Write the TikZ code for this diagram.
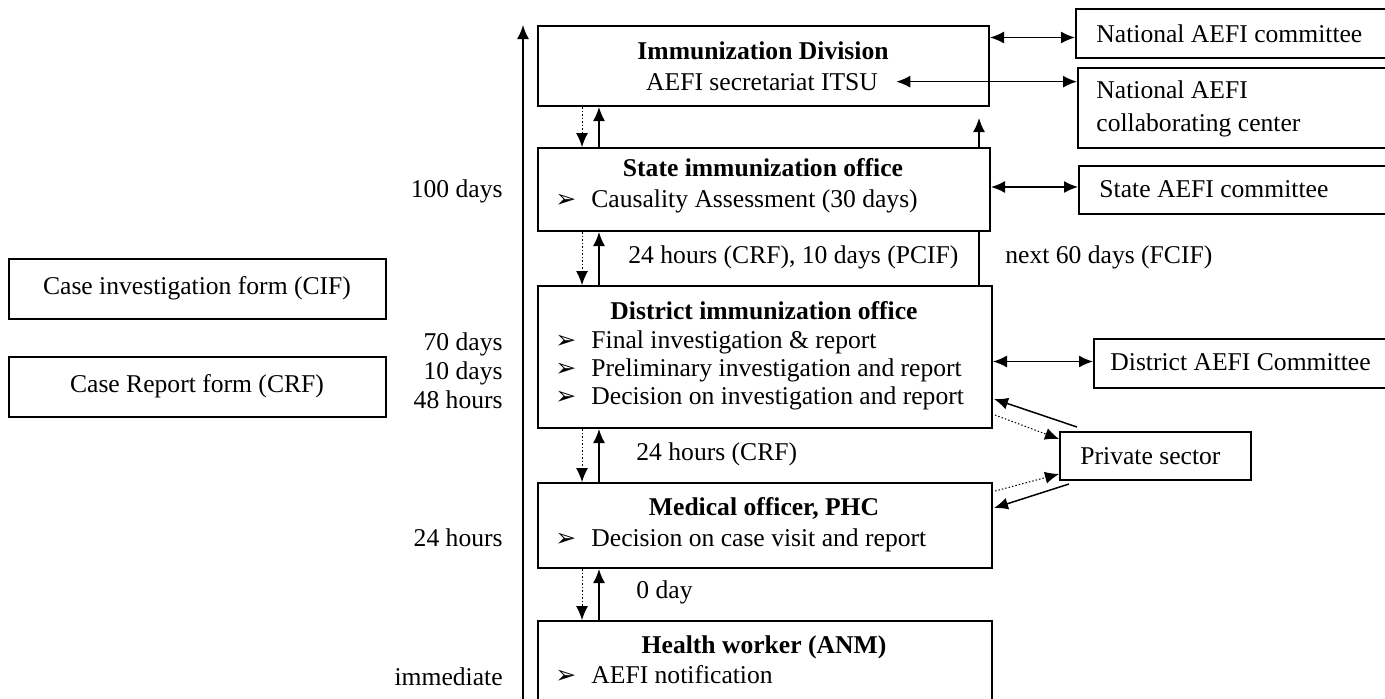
\documentclass[tikz,border=0pt]{standalone}
\usepackage{fontspec}
\setmainfont{Liberation Serif}
\newfontfamily\dejavu{DejaVu Sans}
\usetikzlibrary{arrows.meta}
\newcommand{\bul}[1]{\makebox[18pt][l]{\dejavu\fontsize{12.5}{12}\selectfont ➢}#1}

\begin{document}
\begin{tikzpicture}[x=0.5pt,y=-0.5pt,
  every node/.style={font=\fontsize{12.8}{15}\selectfont},
  box/.style={draw, line width=1pt, anchor=north west, inner sep=0pt},
  lbl/.style={inner sep=0pt, anchor=base},
  lblw/.style={inner sep=0pt, anchor=base west},
  lble/.style={inner sep=0pt, anchor=base east},
  arr/.style={-{Latex[length=7pt,width=6pt]}, line width=0.75pt},
  dotarr/.style={arr, densely dotted, line width=0.5pt},
  both/.style={{Latex[length=7pt,width=6pt]}-{Latex[length=7pt,width=6pt]}, line width=0.75pt}]
  \useasboundingbox (0,0) rectangle (1385,698);
  % main chain
  \node[box, minimum width=225.5pt, minimum height=40pt] (imm) at (537,25) {};
  \node[box, minimum width=226pt, minimum height=41.5pt] (sio) at (537,147) {};
  \node[box, minimum width=227pt, minimum height=71pt] (dio) at (537,285) {};
  \node[box, minimum width=227pt, minimum height=42.5pt] (mo) at (537,482) {};
  \node[box, minimum width=227pt, minimum height=50pt] (hw) at (537,620) {};
  \node[lbl] (immT) at (763,59) {\textbf{Immunization Division}};
  \node[lbl] (itsu) at (762,90) {AEFI secretariat ITSU};
  \node[lbl] (sioT) at (763,176) {\textbf{State immunization office}};
  \node[lblw] (sioA) at (555,207) {\bul{Causality Assessment (30 days)}};
  \node[lbl] (dioT) at (764,319) {\textbf{District immunization office}};
  \node[lblw] (dioA) at (555,348) {\bul{Final investigation \& report}};
  \node[lblw] (dioB) at (555,376) {\bul{Preliminary investigation and report}};
  \node[lblw] (dioC) at (555,404) {\bul{Decision on investigation and report}};
  \node[lbl] (moT) at (764,515) {\textbf{Medical officer, PHC}};
  \node[lblw] (moA) at (555,546) {\bul{Decision on case visit and report}};
  \node[lbl] (hwT) at (764,653) {\textbf{Health worker (ANM)}};
  \node[lblw] (hwA) at (555,683) {\bul{AEFI notification}};
  % side boxes
  \node[box, minimum width=160pt, minimum height=24.5pt] (nac) at (1075,8) {};
  \node[box, minimum width=160pt, minimum height=40pt] (ncc) at (1077,67) {};
  \node[box, minimum width=160pt, minimum height=24pt] (sac) at (1078,165) {};
  \node[box, minimum width=150pt, minimum height=24.5pt] (dac) at (1093,338) {};
  \node[box, minimum width=95.5pt, minimum height=24pt] (ps) at (1059,431) {};
  \node[box, minimum width=188.5pt, minimum height=30pt] (cif) at (8,258) {};
  \node[box, minimum width=188.5pt, minimum height=30pt] (crf) at (8,356) {};
  \node[lblw] (nacT) at (1096,42) {National AEFI committee};
  \node[lblw] (nccA) at (1096,98) {National AEFI};
  \node[lblw] (nccB) at (1096,131) {collaborating center};
  \node[lblw] (sacT) at (1099,197) {State AEFI committee};
  \node[lblw] (dacT) at (1110,370) {District AEFI Committee};
  \node[lblw] (psT) at (1080,464) {Private sector};
  \node[lbl] (cifT) at (197,294) {Case investigation form (CIF)};
  \node[lbl] (crfT) at (197,392) {Case Report form (CRF)};
  % time labels
  \node[lble] (t100) at (503,197) {100 days};
  \node[lble] (t70) at (503,350) {70 days};
  \node[lble] (t10) at (503,379) {10 days};
  \node[lble] (t48) at (503,408) {48 hours};
  \node[lble] (t24) at (503,546) {24 hours};
  \node[lble] (t0) at (503,685) {immediate};
  \node[lblw] (d1) at (628,263) {24 hours (CRF), 10 days (PCIF)};
  \node[lblw] (d2) at (1005,263) {next 60 days (FCIF)};
  \node[lblw] (d3) at (636,460) {24 hours (CRF)};
  \node[lblw] (d4) at (636,598) {0 day};
  % time axis
  \coordinate (ax0) at (523,705);
  \coordinate (ax1) at (523,25);
  \draw[arr] (ax0) -- (ax1);
  % up and down the chain
  \draw[dotarr] ([xshift=22.5pt]imm.south west) -- ([xshift=22.5pt]sio.north west);
  \draw[arr] ([xshift=31pt]sio.north west) -- ([xshift=31pt]imm.south west);
  \draw[dotarr] ([xshift=22.5pt]sio.south west) -- ([xshift=22.5pt]dio.north west);
  \draw[arr] ([xshift=31pt]dio.north west) -- ([xshift=31pt]sio.south west);
  \draw[dotarr] ([xshift=22.5pt]dio.south west) -- ([xshift=22.5pt]mo.north west);
  \draw[arr] ([xshift=31pt]mo.north west) -- ([xshift=31pt]dio.south west);
  \draw[dotarr] ([xshift=22.5pt]mo.south west) -- ([xshift=22.5pt]hw.north west);
  \draw[arr] ([xshift=31pt]hw.north west) -- ([xshift=31pt]mo.south west);
  \draw[line width=0.75pt] ([xshift=221pt]dio.north west) -- ([xshift=221pt]sio.south west);
  \draw[arr, shorten >=5.5pt] ([xshift=221pt]sio.north west) -- ([xshift=221pt]imm.south west);
  % committees
  \draw[both] ([yshift=-2pt]imm.east |- nac.west) -- ([yshift=-2pt]nac.west);
  \draw[both] ([xshift=9pt]itsu.east) -- (ncc.west |- itsu.east);
  \draw[both] ([yshift=1.5pt]sio.east |- sac.west) -- ([yshift=1.5pt]sac.west);
  \draw[both] ([yshift=1pt]dio.east |- dac.west) -- ([yshift=1pt]dac.west);
  % private sector
  \draw[arr] ([xshift=9pt,yshift=2pt]ps.north west) -- ([xshift=0.5pt,yshift=15pt]dio.south east);
  \draw[dotarr] ([xshift=1pt,yshift=7pt]dio.south east) -- ([yshift=8.5pt]ps.west);
  \draw[dotarr] ([xshift=1pt,yshift=-4.5pt]mo.north east) -- ([yshift=-9pt]ps.west);
  \draw[arr] ([xshift=5pt,yshift=-1.5pt]ps.south west) -- ([xshift=0.5pt,yshift=-13pt]mo.north east);
\end{tikzpicture}
\end{document}
